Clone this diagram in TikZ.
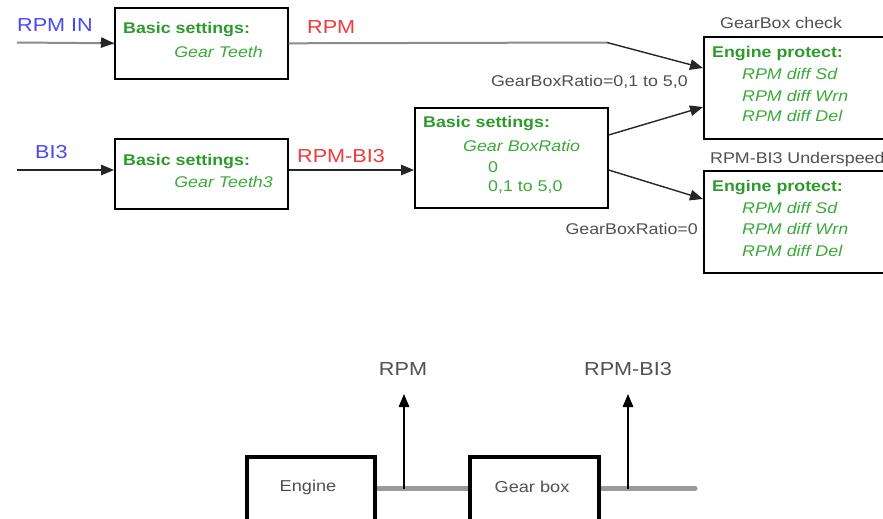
\documentclass[tikz,border=0pt]{standalone}
\usepackage{fontspec}
\setmainfont{Liberation Sans}[FakeStretch=1.15]
\usetikzlibrary{arrows.meta,calc}
\definecolor{tblue}{HTML}{4A4AF0}
\definecolor{tred}{HTML}{EE3B3B}
\definecolor{tgreen}{HTML}{2E9A2E}
\definecolor{tgreenL}{HTML}{3AAA3A}
\definecolor{tgray}{HTML}{505050}
\definecolor{lgray}{HTML}{8C8C8C}
\definecolor{sgray}{HTML}{9A9A9A}
\newcommand\myfs[1]{\fontsize{#1}{#1}\selectfont}
\tikzset{
  box/.style={draw=black, line width=1.6pt, fill=white, anchor=north west, inner sep=0pt},
  bigbox/.style={draw=black, line width=3.6pt, fill=white, anchor=north west, inner sep=0pt},
  lab/.style={inner sep=0pt, font=\myfs{18.8}},
  bold/.style={inner sep=0pt, anchor=west, font=\myfs{15.5}\bfseries, text=tgreen},
  ital/.style={inner sep=0pt, anchor=west, font=\myfs{15.5}\itshape, text=tgreenL},
  grt/.style={inner sep=0pt, font=\myfs{15.5}, text=tgray},
  tip/.style={-{Triangle[length=13pt,width=10.5pt]}},
  gline/.style={draw=lgray, line width=2pt},
  bline/.style={draw=black!85, line width=1.4pt},
  shaft/.style={draw=sgray, line width=5pt}
}
\begin{document}
\begin{tikzpicture}[x=1pt,y=-1pt]
\useasboundingbox (0,0) rectangle (883,519);
\clip (0,0) rectangle (883,519);
\fill[white] (0,0) rectangle (883,519);

% boxes
\node[box, minimum width=173pt, minimum height=71pt] (bs1) at (114,7) {};
\node[box, minimum width=173pt, minimum height=70pt] (bs2) at (114,138) {};
\node[box, minimum width=193pt, minimum height=100pt] (bs3) at (414,107) {};
\node[box, minimum width=190pt, minimum height=102pt] (chk) at (703,36) {};
\node[box, minimum width=190pt, minimum height=102pt] (und) at (703,170) {};

% texts in boxes
\node[bold] (t1a) at (123,30) {Basic settings:};
\node[ital, anchor=east] (t1b) at (263,52) {Gear Teeth};
\node[bold] (t2a) at (123,162) {Basic settings:};
\node[ital, anchor=east] (t2b) at (273,182) {Gear Teeth3};
\node[bold] (t3a) at (423,124) {Basic settings:};
\node[ital] (t3b) at (463,146) {Gear BoxRatio};
\node[ital, font=\myfs{15.5}] (t3c) at (488,167) {0};
\node[ital, font=\myfs{15.5}] (t3d) at (488,187) {0,1 to 5,0};

\node[grt, anchor=west] (chkT) at (720,23) {GearBox check};
\node[bold] (c1) at (712,54) {Engine protect:};
\node[ital] (c2) at (742,74) {RPM diff Sd};
\node[ital] (c3) at (742,96) {RPM diff Wrn};
\node[ital] (c4) at (742,116) {RPM diff Del};

\node[grt, anchor=west] (undT) at (710,159) {RPM-BI3 Underspeed};
\node[bold] (u1) at (712,188) {Engine protect:};
\node[ital] (u2) at (742,208) {RPM diff Sd};
\node[ital] (u3) at (742,229) {RPM diff Wrn};
\node[ital] (u4) at (742,251) {RPM diff Del};

% labels
\node[lab, text=tblue, anchor=west] (rpmin) at (17,25) {RPM IN};
\node[lab, text=tred, anchor=west] (rpm) at (307,27) {RPM};
\node[lab, text=tblue, anchor=west] (bi3) at (35,152) {BI3};
\node[lab, text=tred, anchor=west] (rpmbi3) at (297,156) {RPM-BI3};
\node[grt, anchor=east] (gr1) at (688,82) {GearBoxRatio=0,1 to 5,0};
\node[grt, anchor=east] (gr0) at (698,229) {GearBoxRatio=0};

% connectors
\coordinate (in1) at (17,42.5);
\coordinate (in1b) at (100,42.5);
\coordinate (in2) at (17,170);
\coordinate (k1) at (607,42.5);
\draw[gline] (in1) -- (bs1.west);
\draw[bline, tip] (in1b) -- (bs1.west);
\draw[bline, tip] (in2) -- (bs2.west |- in2);
\draw[gline] (bs1.east) -- (k1);
\draw[bline, tip] (k1) -- ($(chk.north west)+(0,32)$);
\draw[bline, tip] (bs2.east |- in2) -- (bs3.west |- in2);
\draw[bline, tip] ($(bs3.north east)+(0,28)$) -- ($(chk.north west)+(0,71)$);
\draw[bline, tip] ($(bs3.north east)+(0,63)$) -- ($(und.north west)+(0,29)$);

% bottom
\coordinate (s1) at (404,488.5);
\coordinate (s2) at (628,488.5);
\coordinate (send) at (695,488.5);
\coordinate (a1) at (404,394);
\coordinate (a2) at (628,394);
\draw[shaft] (373,488.5) -- (468,488.5);
\draw[shaft, line cap=round] (597,488.5) -- (send);
\node[bigbox, minimum width=128pt, minimum height=67pt] (eng) at (245,455) {};
\node[bigbox, minimum width=129pt, minimum height=67pt] (gb) at (468,455) {};
\node[grt, font=\myfs{15.8}] (engT) at (308,487) {Engine};
\node[grt, font=\myfs{15.8}] (gbT) at (532,487) {Gear box};
\draw[line width=1.4pt, tip] (s1) -- (a1);
\draw[line width=1.4pt, tip] (s2) -- (a2);
\node[lab, text=tgray] (rpmL) at (403,369) {RPM};
\node[lab, text=tgray] (rpmbL) at (628,369) {RPM-BI3};
\end{tikzpicture}
\end{document}
